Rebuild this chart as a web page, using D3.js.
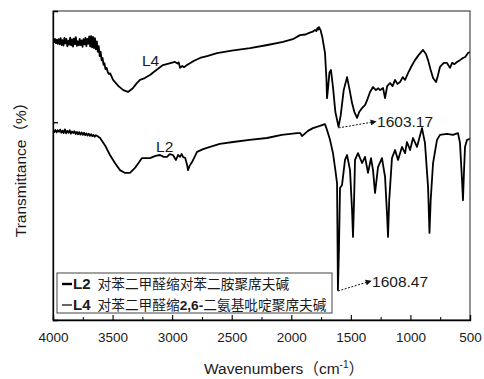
<!DOCTYPE html>
<html>
<head>
<meta charset="utf-8">
<script src="https://cdn.jsdelivr.net/npm/d3@7"></script>
<style>
  html, body { margin: 0; padding: 0; background: #fff; }
  svg { display: block; }
  text { font-family: "Liberation Sans", Arial, "Noto Sans CJK SC", sans-serif; fill: #1a1a1a; }
</style>
</head>
<body>
<svg id="chart" width="484" height="379"></svg>
<script>
// FT-IR spectra of the two Schiff-base polymers: [wavenumber (cm-1), transmittance (offset, a.u.)]
const l4Spectrum = [
  [4000, 90.8], [3992, 89.9], [3984, 91.0], [3976, 89.6], [3968, 90.7], [3960, 89.4], [3952, 90.9],
  [3944, 89.2], [3936, 91.2], [3928, 89.0], [3920, 90.6], [3912, 88.8], [3904, 91.3], [3896, 89.5],
  [3888, 91.0], [3880, 88.6], [3872, 90.4], [3864, 89.1], [3856, 91.4], [3848, 88.9], [3840, 90.8],
  [3832, 88.5], [3824, 91.1], [3816, 89.3], [3808, 91.5], [3800, 88.7], [3792, 90.2], [3784, 88.9],
  [3776, 91.0], [3768, 89.0], [3760, 90.5], [3752, 88.4], [3744, 90.9], [3736, 89.2], [3728, 91.3],
  [3720, 88.6], [3712, 91.0], [3704, 89.4], [3696, 91.8], [3688, 88.5], [3680, 91.9], [3672, 88.2],
  [3664, 91.6], [3656, 88.0], [3648, 91.2], [3640, 87.6], [3632, 90.2], [3624, 86.8], [3616, 88.6],
  [3608, 85.4], [3600, 86.8], [3592, 84.0], [3584, 84.8], [3576, 82.6], [3568, 83.1], [3560, 81.2],
  [3550, 81.6], [3540, 80.2], [3530, 79.6], [3520, 79.8], [3496, 77.7], [3450, 75.7], [3410, 74.4],
  [3370, 73.8], [3330, 75.0], [3300, 76.5], [3270, 77.7], [3230, 78.3], [3186, 79.3], [3130, 81.0],
  [3077, 82.5], [3030, 83.0], [2976, 83.5], [2955, 83.0], [2945, 83.4], [2934, 81.6], [2915, 82.2],
  [2900, 81.8], [2875, 82.5], [2820, 83.8], [2766, 84.8], [2700, 85.5], [2623, 86.4], [2500, 87.2],
  [2346, 88.0], [2200, 89.0], [2069, 90.0], [1980, 91.0], [1927, 92.2], [1880, 92.4], [1850, 92.9],
  [1820, 93.3], [1800, 93.9], [1790, 93.5], [1780, 94.5], [1772, 94.0], [1767, 94.8], [1760, 94.2],
  [1755, 93.9], [1740, 91.6], [1717, 86.4], [1705, 78.0], [1700, 71.8], [1693, 74.5], [1680, 80.0],
  [1667, 80.9], [1650, 75.4], [1630, 67.3], [1603.17, 62.5], [1585, 66.3], [1560, 74.4], [1532, 78.6],
  [1510, 74.4], [1490, 70.2], [1470, 67.3], [1448, 65.4], [1430, 67.3], [1406, 68.6], [1380, 69.6],
  [1360, 71.5], [1339, 73.8], [1314, 75.4], [1290, 74.4], [1270, 75.0], [1255, 74.4], [1230, 75.1],
  [1213, 71.8], [1195, 75.7], [1171, 76.7], [1150, 75.7], [1129, 77.7], [1110, 76.4], [1087, 77.0],
  [1065, 78.6], [1045, 77.7], [1020, 79.9], [990, 82.2], [962, 84.1], [930, 85.8], [894, 87.4],
  [870, 86.1], [852, 84.1], [830, 80.9], [810, 78.3], [785, 77.0], [770, 79.0], [752, 81.9],
  [720, 83.2], [693, 83.2], [668, 81.6], [650, 83.2], [630, 82.8], [609, 83.5], [585, 84.1],
  [559, 84.8], [540, 85.1], [517, 86.4], [500, 86.7]
];

const l2Spectrum = [
  [4000, 61.3], [3990, 60.8], [3980, 61.5], [3970, 60.7], [3960, 61.4], [3950, 60.9], [3940, 61.6],
  [3930, 60.6], [3920, 61.3], [3910, 60.5], [3900, 61.7], [3890, 60.4], [3880, 61.2], [3870, 60.6],
  [3860, 61.4], [3850, 60.3], [3840, 61.0], [3830, 60.5], [3820, 61.1], [3810, 60.2], [3800, 60.9],
  [3790, 60.1], [3780, 60.8], [3770, 60.0], [3760, 60.7], [3750, 59.9], [3740, 60.6], [3730, 59.8],
  [3720, 60.4], [3710, 59.7], [3700, 60.3], [3690, 59.6], [3680, 60.1], [3670, 59.5], [3660, 59.9],
  [3650, 59.3], [3640, 59.8], [3631, 59.6], [3605, 58.9], [3560, 56.3], [3522, 53.4], [3480, 50.8],
  [3438, 48.5], [3396, 47.6], [3354, 47.6], [3312, 49.2], [3253, 52.4], [3186, 52.4], [3140, 53.1],
  [3102, 53.4], [3070, 52.8], [3043, 52.8], [3020, 53.7], [2993, 53.4], [2968, 51.8], [2950, 53.4],
  [2934, 52.8], [2920, 53.7], [2909, 52.8], [2890, 52.4], [2875, 50.2], [2867, 48.5], [2855, 49.8],
  [2833, 51.1], [2791, 54.4], [2740, 55.3], [2682, 56.0], [2600, 57.0], [2489, 57.6], [2350, 58.3],
  [2204, 58.9], [2080, 59.9], [1952, 60.5], [1925, 60.5], [1910, 59.5], [1860, 61.2], [1818, 62.1],
  [1760, 62.8], [1717, 63.4], [1700, 61.5], [1675, 58.3], [1650, 54.0], [1630, 48.5], [1616, 44.3],
  [1608.47, 9.7], [1600, 22.7], [1591, 42.7], [1574, 43.7], [1549, 51.8], [1532, 53.4], [1507, 48.5],
  [1490, 35.6], [1482, 26.9], [1473, 38.8], [1465, 51.8], [1440, 54.0], [1406, 50.8], [1381, 52.8],
  [1356, 47.6], [1331, 52.4], [1314, 48.5], [1297, 41.1], [1272, 49.5], [1239, 52.4], [1213, 46.3],
  [1196, 34.0], [1188, 26.9], [1178, 38.8], [1155, 52.4], [1129, 55.0], [1104, 51.8], [1071, 56.0],
  [1045, 54.0], [1029, 57.6], [1003, 55.0], [978, 58.9], [945, 56.0], [903, 62.1], [878, 57.3],
  [852, 43.0], [840, 28.2], [830, 38.8], [810, 50.8], [777, 58.3], [752, 59.9], [693, 60.2],
  [643, 59.9], [601, 60.5], [584, 57.3], [567, 45.3], [559, 38.8], [550, 48.5], [542, 56.0],
  [525, 58.3], [500, 58.6]
];

const majorTicks = [4000, 3500, 3000, 2500, 2000, 1500, 1000, 500];
const minorTicks = [3750, 3250, 2750, 2250, 1750, 1250, 750];
const yTickValues = [64];

const seriesLabels = [
  { name: "L4", wn: 3253, t: 82.2 },
  { name: "L2", wn: 3135, t: 54.4 }
];

const peakNotes = [
  { text: "1603.17", wn: 1603.17, t: 62.5, textWn: 1280, textT: 62.3 },
  { text: "1608.47", wn: 1608.47, t: 9.7, textWn: 1322, textT: 10.7 }
];

const legendItems = [
  { key: "L2", desc: ["对苯二甲醛缩对苯二胺聚席夫碱"], width: 2.4 },
  { key: "L4", desc: ["对苯二甲醛缩", "2,6-", "二氨基吡啶聚席夫碱"], width: 1.2 }
];

const W = 484, H = 379;
const margin = { top: 11, right: 14, bottom: 59, left: 53 };
const svg = d3.select("#chart");

const x = d3.scaleLinear().domain([4000, 500]).range([margin.left, W - margin.right]);
const y = d3.scaleLinear().domain([0, 100]).range([H - margin.bottom, margin.top]);

svg.append("defs").append("clipPath").attr("id", "plot-clip")
  .append("rect")
  .attr("x", margin.left).attr("y", margin.top)
  .attr("width", x(500) - x(4000)).attr("height", y(0) - y(100));

svg.append("defs").append("marker")
  .attr("id", "arrow").attr("viewBox", "0 0 10 10")
  .attr("refX", 9).attr("refY", 5)
  .attr("markerWidth", 7).attr("markerHeight", 6)
  .attr("markerUnits", "userSpaceOnUse")
  .attr("orient", "auto")
  .append("path").attr("d", "M0,0 L10,5 L0,10 Z").attr("fill", "#111");

// spectra
const line = d3.line().x(d => x(d[0])).y(d => y(d[1]));
const spectra = svg.append("g").attr("clip-path", "url(#plot-clip)");
[l4Spectrum, l2Spectrum].forEach(s => {
  spectra.append("path")
    .datum(s)
    .attr("d", line)
    .attr("fill", "none")
    .attr("stroke", "#000")
    .attr("stroke-width", 1.8)
    .attr("stroke-linejoin", "round");
});

// frame
svg.append("rect")
  .attr("x", margin.left).attr("y", margin.top)
  .attr("width", x(500) - x(4000)).attr("height", y(0) - y(100))
  .attr("fill", "none").attr("stroke", "#222").attr("stroke-width", 1);

// bottom axis (inward ticks)
const xAxis = svg.append("g")
  .attr("transform", `translate(0,${y(0)})`)
  .call(d3.axisBottom(x).tickValues(majorTicks).tickSize(-5).tickPadding(12.5).tickFormat(d3.format("d")));
xAxis.select(".domain").attr("stroke", "#000").attr("stroke-width", 1.3);
xAxis.selectAll(".tick line").attr("stroke", "#000").attr("stroke-width", 1.1);
xAxis.selectAll(".tick text")
  .attr("font-size", 13.5)
  .attr("font-family", "'Liberation Sans', Arial, sans-serif")
  .attr("fill", "#1a1a1a");

const xMinor = svg.append("g")
  .attr("transform", `translate(0,${y(0)})`)
  .call(d3.axisBottom(x).tickValues(minorTicks).tickSize(-3).tickFormat(""));
xMinor.select(".domain").remove();
xMinor.selectAll(".tick line").attr("stroke", "#000").attr("stroke-width", 1);

// left axis (unlabelled)
const yAxis = svg.append("g")
  .attr("transform", `translate(${margin.left},0)`)
  .call(d3.axisLeft(y).tickValues(yTickValues).tickSize(-5).tickFormat(""));
yAxis.select(".domain").attr("stroke", "#000").attr("stroke-width", 1.3);
yAxis.selectAll(".tick line").attr("stroke", "#000").attr("stroke-width", 1.3);

// axis titles
const xt = svg.append("text")
  .attr("x", 284).attr("y", 374)
  .attr("text-anchor", "middle")
  .attr("font-size", 15.5);
xt.append("tspan").text("Wavenumbers");
xt.append("tspan").attr("font-family", "'Noto Sans CJK SC'").text("（");
xt.append("tspan").text("cm");
xt.append("tspan").attr("dy", -6).attr("font-size", 10).text("-1");
xt.append("tspan").attr("dy", 6).attr("font-family", "'Noto Sans CJK SC'").text("）");

const yt = svg.append("text")
  .attr("transform", "translate(26,166) rotate(-90)")
  .attr("text-anchor", "middle")
  .attr("font-size", 15.5);
yt.append("tspan").text("Transmittance");
yt.append("tspan").attr("font-family", "'Noto Sans CJK SC'").text("（");
yt.append("tspan").text("%");
yt.append("tspan").attr("font-family", "'Noto Sans CJK SC'").text("）");

// curve labels
svg.selectAll(".series-label")
  .data(seriesLabels)
  .join("text")
  .attr("class", "series-label")
  .attr("x", d => x(d.wn)).attr("y", d => y(d.t))
  .attr("font-size", 15.5)
  .text(d => d.name);

// peak annotations with dashed arrows
peakNotes.forEach(p => {
  const tx = x(p.textWn), ty = y(p.textT);
  svg.append("line")
    .attr("x1", x(p.wn)).attr("y1", y(p.t) + 1)
    .attr("x2", tx - 1).attr("y2", ty - 6)
    .attr("stroke", "#111").attr("stroke-width", 1)
    .attr("stroke-dasharray", "2,1.5")
    .attr("marker-end", "url(#arrow)");
  svg.append("text")
    .attr("x", tx).attr("y", ty)
    .attr("font-size", 15.5)
    .text(p.text);
});

// legend
const lg = svg.append("g");
lg.append("rect")
  .attr("x", 57).attr("y", 273).attr("width", 275).attr("height", 40)
  .attr("fill", "#fff").attr("stroke", "#444").attr("stroke-width", 1);
legendItems.forEach((it, i) => {
  const cy = 284 + i * 21;
  lg.append("line")
    .attr("x1", 62).attr("x2", 72).attr("y1", cy).attr("y2", cy)
    .attr("stroke", "#000").attr("stroke-width", it.width);
  const t = lg.append("text")
    .attr("x", 73).attr("y", cy + 5)
    .attr("font-size", 13.7);
  t.append("tspan").attr("font-weight", "bold").attr("font-size", 15).text(it.key);
  it.desc.forEach((part, j) => {
    const latin = /^[0-9,\-]+$/.test(part);
    const ts = t.append("tspan")
      .attr("font-weight", latin ? "bold" : "normal")
      .attr("font-family", latin ? "'Liberation Sans', Arial" : "'Noto Sans CJK SC'")
      .text(part);
    if (j === 0) ts.attr("dx", 7);
  });
});
</script>
</body>
</html>
